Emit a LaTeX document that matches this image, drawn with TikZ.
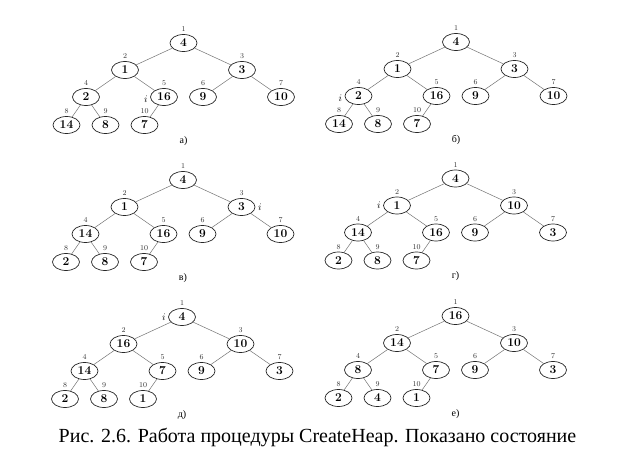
\documentclass[tikz,border=0pt]{standalone}
\usepackage{fontspec}
\newfontfamily\capfont{Liberation Serif}
\usetikzlibrary{shapes.geometric, positioning, calc}
\tikzset{
    base/.style = {draw=black!85, line width=0.7pt, inner sep=0pt},
    % Heap nodes
    key/.style   = {base, ellipse, minimum width=27pt, minimum height=17pt,
                    font=\fontsize{12}{13}\selectfont\bfseries},
    idx/.style   = {font=\fontsize{7.5}{8}\selectfont, inner sep=0.5pt, text=black!80},
    % Edges and annotations
    edge/.style    = {draw=black!55, line width=0.5pt},
    imark/.style   = {font=\fontsize{10}{11}\selectfont, inner sep=0.5pt},
    panel/.style   = {font=\capfont\fontsize{10}{11}\selectfont},
    caption/.style = {font=\capfont\fontsize{20}{22}\selectfont}
}

% #1 prefix, #2 root position, #3 keys in array order
\newcommand{\heaptree}[3]{%
  \coordinate (#1p1) at #2;
  \coordinate[below left=27pt and 58.5pt of #1p1] (#1p2);
  \coordinate[below right=27pt and 58.5pt of #1p1] (#1p3);
  \coordinate[below left=27pt and 39pt of #1p2] (#1p4);
  \coordinate[below right=27pt and 39pt of #1p2] (#1p5);
  \coordinate[below left=27pt and 39pt of #1p3] (#1p6);
  \coordinate[below right=27pt and 39pt of #1p3] (#1p7);
  \coordinate[below left=28pt and 19.5pt of #1p4] (#1p8);
  \coordinate[below right=28pt and 19.5pt of #1p4] (#1p9);
  \coordinate[below left=28pt and 19.5pt of #1p5] (#1p10);
  \foreach \v [count=\k] in {#3}
    \node[key, label={[idx, label distance=1.5pt]above:\k}] (#1\k) at (#1p\k) {\v};
  \foreach \c/\p in {2/1,3/1,4/2,5/2,6/3,7/3,8/4,9/4,10/5}
    \draw[edge] (#1\p) -- (#1\c);
}

\begin{document}
\begin{tikzpicture}[x=1pt, y=1pt]
    \useasboundingbox (0,0) rectangle (634,-452);

    % a)
    \heaptree{a}{(183.5,-43)}{4,1,3,2,16,9,10,14,8,7}
    \node[panel] (pa) at ($(a1)+(0,-98)$) {а)};
    \node[imark, left=2pt of a5, yshift=-2pt] (ia) {$i$};

    % b)
    \heaptree{b}{(456,-42)}{4,1,3,2,16,9,10,14,8,7}
    \node[panel] (pb) at ($(b1)+(0,-98)$) {б)};
    \node[imark, left=2pt of b4, yshift=-2pt] (ib) {$i$};

    % c)
    \heaptree{c}{(183,-180)}{4,1,3,14,16,9,10,2,8,7}
    \node[panel] (pc) at ($(c1)+(0,-98)$) {в)};
    \node[imark, right=2pt of c3] (ic) {$i$};

    % d)
    \heaptree{d}{(455.5,-178.5)}{4,1,10,14,16,9,3,2,8,7}
    \node[panel] (pd) at ($(d1)+(0,-98)$) {г)};
    \node[imark, left=2pt of d2] (id) {$i$};

    % e)
    \heaptree{e}{(182,-317)}{4,16,10,14,7,9,3,2,8,1}
    \node[panel] (pe) at ($(e1)+(0,-98)$) {д)};
    \node[imark, left=2pt of e1] (ie) {$i$};

    % f)
    \heaptree{f}{(455.5,-316)}{16,14,10,8,7,9,3,2,4,1}
    \node[panel] (pf) at ($(f1)+(0,-98)$) {е)};

    \node[caption] (cap) at (317.5,-437) {Рис. 2.6. Работа процедуры CreateHeap. Показано состояние};
\end{tikzpicture}
\end{document}
